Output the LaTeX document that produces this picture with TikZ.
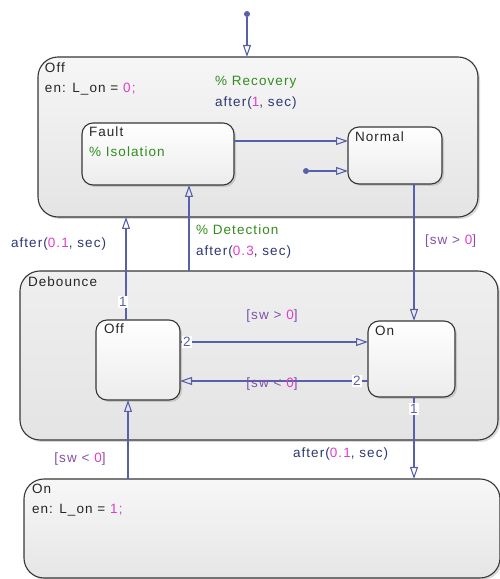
\documentclass[tikz,border=0pt]{standalone}
\usepackage{fontspec}
\setmainfont[LetterSpace=8]{Liberation Sans}
\usetikzlibrary{arrows.meta,shadows}

\definecolor{trColor}{RGB}{88,96,172}
\definecolor{stBorder}{RGB}{55,55,55}
\definecolor{stLow}{RGB}{236,236,236}
\definecolor{supTop}{RGB}{246,246,246}
\definecolor{supLow}{RGB}{228,228,228}
\definecolor{sfNavy}{RGB}{45,55,115}
\definecolor{sfMag}{RGB}{225,60,205}
\definecolor{sfPurple}{RGB}{130,80,170}
\definecolor{sfGreen}{RGB}{50,140,30}
\newcommand\sfval[1]{\textcolor{sfMag}{#1}}
\newcommand\sfafter[1]{\textcolor{sfNavy}{after(}\sfval{#1}\textcolor{sfNavy}{, sec)}}
\newcommand\sfguard[2]{\textcolor{sfPurple}{[sw #1 }\sfval{#2}\textcolor{sfPurple}{]}}

\begin{document}
\begin{tikzpicture}[x=1pt,y=1pt,
  sfstate/.style={draw=stBorder,line width=1.1pt,rounded corners=11pt,top color=white,bottom color=stLow,
    drop shadow={opacity=0.3,shadow xshift=2pt,shadow yshift=-2pt},inner sep=0pt,outer sep=0pt},
  sfsuper/.style={sfstate,rounded corners=20pt,top color=supTop,bottom color=supLow},
  sftext/.style={anchor=mid west,inner sep=0pt,outer sep=0pt,text=black!85,font=\fontsize{13.5}{15}\selectfont},
  tr/.style={draw=trColor,line width=1.1pt,-{Triangle[open,length=12pt,width=8pt]}},
  junc/.style={circle,fill=trColor,inner sep=0pt,minimum size=6pt},
  num/.style={sftext,anchor=center,fill=white,inner sep=1pt,text=trColor}]
\useasboundingbox (0,0) rectangle (499,579);

\node[sfsuper,minimum width=440pt,minimum height=160pt] (offS) at (258,442) {};
\node[sfsuper,top color=supTop!60!supLow,minimum width=478pt,minimum height=169pt] (deb) at (259,223.5) {};
\node[sfsuper,top color=white!97!black,bottom color=white!90!black,minimum width=476pt,minimum height=99pt] (onS) at (262,50.5) {};

\node[sfstate,minimum width=152pt,minimum height=62pt] (fault) at (158,425) {};
\node[sfstate,minimum width=94pt,minimum height=57pt] (normal) at (395,423.5) {};
\node[sfstate,minimum width=84pt,minimum height=80pt] (dOff) at (138,219) {};
\node[sfstate,minimum width=87pt,minimum height=76pt] (dOn) at (411.5,220) {};

\node[sftext] (offName) at (45,509) {Off};
\node[sftext] (offEn) at (45,489) {en: L\_on = \sfval{0;}};
\node[sftext] (faultName) at (89,445) {Fault};
\node[sftext,text=sfGreen] (faultCom) at (89,425) {\% Isolation};
\node[sftext] (normalName) at (355,440) {Normal};
\node[sftext] (debName) at (28,295) {Debounce};
\node[sftext] (dOffName) at (104,248) {Off};
\node[sftext] (dOnName) at (375,246) {On};
\node[sftext] (onName) at (32,88) {On};
\node[sftext] (onEn) at (32,68) {en: L\_on = \sfval{1;}};

\node[junc] (junTop) at (247,565) {};
\node[junc] (junNorm) at (306,408) {};
\coordinate (xOn) at (414,0);
\coordinate (xUp) at (126,0);
\coordinate (xDet) at (189,0);
\coordinate (xDown) at (128,0);

\draw[tr] (junTop) -- (junTop |- offS.north);
\draw[tr] (junNorm) -- (junNorm -| normal.west);
\draw[tr] ([yshift=13pt]fault.east) -- ([yshift=13pt]fault.east -| normal.west);
\draw[tr] (normal.south -| xOn) -- (dOn.north -| xOn);
\draw[tr] (dOff.north -| xUp) -- (offS.south -| xUp);
\draw[tr] (deb.north -| xDet) -- (fault.south -| xDet);
\draw[tr] ([yshift=18pt]dOff.east) -- ([yshift=18pt]dOff.east -| dOn.west);
\draw[tr] ([yshift=-22pt]dOn.west) -- ([yshift=-22pt]dOn.west -| dOff.east);
\draw[tr] (onS.north -| xDown) -- (dOff.south -| xDown);
\draw[tr] (dOn.south -| xOn) -- (onS.north -| xOn);

\node[num] (n2a) at (187,237) {2};
\node[num] (n2b) at (357,198) {2};
\node[num] (n1a) at (123,277) {1};
\node[num] (n1b) at (414,170) {1};

\node[sftext,text=sfGreen] (recCom) at (215,496) {\% Recovery};
\node[sftext] (recAfter) at (215,475) {\sfafter{1}};
\node[sftext] (guardNorm) at (425,337) {\sfguard{>}{0}};
\node[sftext] (upAfter) at (11,334) {\sfafter{0.1}};
\node[sftext,text=sfGreen] (detCom) at (196,347) {\% Detection};
\node[sftext] (detAfter) at (196,326) {\sfafter{0.3}};
\node[sftext,anchor=mid] (guardOn) at (272,262) {\sfguard{>}{0}};
\node[sftext,anchor=mid] (guardOff) at (272,194) {\sfguard{<}{0}};
\node[sftext,anchor=mid] (guardUp) at (80,119) {\sfguard{<}{0}};
\node[sftext] (downAfter) at (293,124) {\sfafter{0.1}};
\end{tikzpicture}
\end{document}
